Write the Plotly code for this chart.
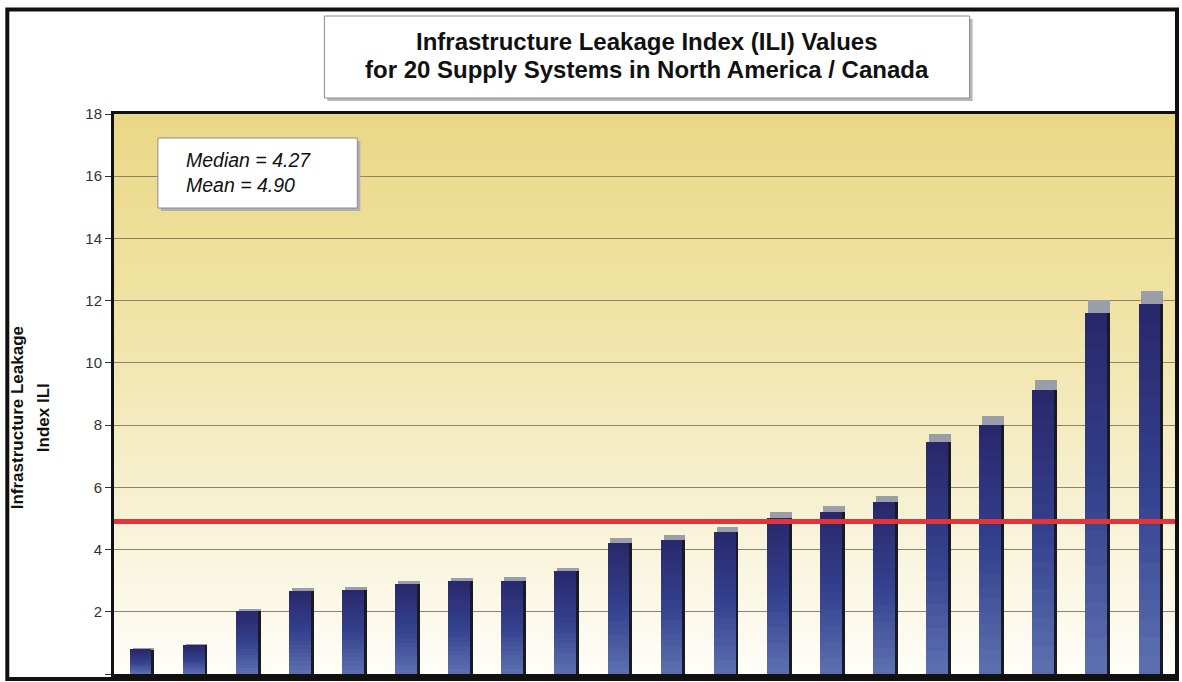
import base64
import struct
import zlib
import plotly.graph_objects as go

# ---------------- data ----------------
systems = [f"System {i}" for i in range(1, 21)]
ili_values = [0.78, 0.92, 2.02, 2.68, 2.70, 2.88, 2.98, 3.00, 3.30, 4.22,
              4.32, 4.58, 5.02, 5.22, 5.54, 7.45, 8.00, 9.12, 11.60, 11.88]
median_ili = 4.27
mean_ili = 4.90
y_ticks = [0, 2, 4, 6, 8, 10, 12, 14, 16, 18]

title_lines = ["Infrastructure Leakage Index (ILI) Values",
               "for 20 Supply Systems in North America / Canada"]
y_title_lines = ["Infrastructure Leakage", "Index ILI"]

# ---------------- geometry ----------------
W, H = 1182, 682
L, R, T, B = 114, 3, 114, 8
PW, PH = W - L - R, H - T - B


def px(x):
    return (x - L) / PW


def py(y):
    return (H - B - y) / PH


def hex2rgb(h):
    h = h.lstrip('#')
    return [int(h[i:i + 2], 16) for i in (0, 2, 4)]


def interp(stops, t):
    for (t0, c0), (t1, c1) in zip(stops[:-1], stops[1:]):
        if t0 <= t <= t1:
            f = (t - t0) / (t1 - t0) if t1 > t0 else 0
            a, b = hex2rgb(c0), hex2rgb(c1)
            return [round(a[j] + (b[j] - a[j]) * f) for j in range(3)]
    return hex2rgb(stops[-1][1])


def gradient_png(stops, h=256):
    rows = b''
    for i in range(h):
        r, g, b = interp(stops, i / (h - 1))
        rows += b'\x00' + bytes([r, g, b])

    def chunk(tag, data):
        c = struct.pack('>I', len(data)) + tag + data
        return c + struct.pack('>I', zlib.crc32(tag + data) & 0xffffffff)

    png = (b'\x89PNG\r\n\x1a\n'
           + chunk(b'IHDR', struct.pack('>IIBBBBB', 1, h, 8, 2, 0, 0, 0))
           + chunk(b'IDAT', zlib.compress(rows))
           + chunk(b'IEND', b''))
    return 'data:image/png;base64,' + base64.b64encode(png).decode()


bg_stops = [(0.0, '#ead887'), (0.35, '#f0e3a5'), (0.65, '#f6efcd'), (1.0, '#fefdf8')]
bg_uri = gradient_png(bg_stops)

fig = go.Figure()

BAR_W = 0.41
OFF = -BAR_W / 2
SH = 0.055

# grey top shadow
fig.add_trace(go.Bar(x=systems, y=[v * 0.035 for v in ili_values], base=ili_values,
                     width=BAR_W, offset=OFF + SH,
                     marker=dict(color='#9a9ea8', line=dict(width=0)),
                     hoverinfo='skip', showlegend=False))
# dark side shadow
fig.add_trace(go.Bar(x=systems, y=ili_values, base=[0] * len(ili_values),
                     width=BAR_W, offset=OFF + SH,
                     marker=dict(color='#1a1a22', line=dict(width=0)),
                     hoverinfo='skip', showlegend=False))

# gradient bars (segments)
N = 20
bar_stops = [(0.0, '#5d71b0'), (0.5, '#34418e'), (1.0, '#29276a')]
for k in range(N):
    r, g, b = interp(bar_stops, (k + 0.5) / N)
    fig.add_trace(go.Bar(x=systems, y=[v / N * 1.002 for v in ili_values],
                         base=[v * k / N for v in ili_values],
                         width=BAR_W, offset=OFF,
                         marker=dict(color=f'rgb({r},{g},{b})', line=dict(width=0)),
                         hovertemplate='%{x}: %{customdata}<extra></extra>',
                         customdata=ili_values, showlegend=False))

shapes = []
# mean line
shapes.append(dict(type='line', xref='x domain', yref='y', x0=0, x1=1,
                   y0=mean_ili, y1=mean_ili, line=dict(color='#e0353a', width=5), layer='above'))
# outer frame
shapes.append(dict(type='rect', xref='paper', yref='paper', x0=px(7), x1=px(1180),
                   y0=py(679), y1=py(9.5), line=dict(color='#111111', width=4), layer='above'))
# title box with shadow
shapes.append(dict(type='rect', xref='paper', yref='paper', x0=px(328), x1=px(975),
                   y0=py(101), y1=py(19), line=dict(width=0), fillcolor='#b8b8b8', layer='above'))
shapes.append(dict(type='rect', xref='paper', yref='paper', x0=px(325), x1=px(972),
                   y0=py(98), y1=py(16), line=dict(color='#8a8a8a', width=1),
                   fillcolor='white', layer='above'))
# stats box with shadow
shapes.append(dict(type='rect', xref='paper', yref='paper', x0=px(161), x1=px(361),
                   y0=py(211), y1=py(141), line=dict(width=0), fillcolor='#b0b0b0', layer='above'))
shapes.append(dict(type='rect', xref='paper', yref='paper', x0=px(158), x1=px(358),
                   y0=py(208), y1=py(138), line=dict(color='#8a8a8a', width=1),
                   fillcolor='white', layer='above'))

FONT = 'Liberation Sans, Arial, sans-serif'
annotations = [
    dict(xref='paper', yref='paper', x=px(648.5), y=py(41), xanchor='center', yanchor='middle',
         text=title_lines[0], showarrow=False,
         font=dict(family=FONT, size=24, color='#111111', weight='bold')),
    dict(xref='paper', yref='paper', x=px(648.5), y=py(69), xanchor='center', yanchor='middle',
         text=title_lines[1], showarrow=False,
         font=dict(family=FONT, size=24, color='#111111', weight='bold')),
    dict(xref='paper', yref='paper', x=px(184), y=py(173), xanchor='left', yanchor='middle',
         text=f'Median = {median_ili:.2f}<br>Mean = {mean_ili:.2f}', showarrow=False, align='left',
         font=dict(family=FONT, size=19.5, color='#111111', style='italic')),
    dict(xref='paper', yref='paper', x=px(17), y=py(418), xanchor='center', yanchor='middle',
         text=y_title_lines[0], textangle=-90, showarrow=False,
         font=dict(family=FONT, size=17, color='#111111', weight='bold')),
    dict(xref='paper', yref='paper', x=px(43), y=py(418), xanchor='center', yanchor='middle',
         text=y_title_lines[1], textangle=-90, showarrow=False,
         font=dict(family=FONT, size=17, color='#111111', weight='bold')),
]

fig.update_layout(
    width=W, height=H, autosize=False,
    margin=dict(l=L, r=R, t=T, b=B, pad=0),
    paper_bgcolor='white', plot_bgcolor='rgba(0,0,0,0)',
    barmode='overlay', bargap=0,
    shapes=shapes, annotations=annotations,
    images=[dict(source=bg_uri, xref='x domain', yref='y domain', x=0, y=1, sizex=1, sizey=1,
                 xanchor='left', yanchor='top', sizing='stretch', layer='below')],
    font=dict(family=FONT),
    xaxis=dict(type='category', categoryorder='array', categoryarray=systems,
               range=[-0.5, len(systems) - 0.5], showticklabels=False,
               ticks='outside', tickson='boundaries', ticklen=4, tickcolor='#999999',
               showgrid=False, showline=True, linecolor='#111111', linewidth=3, mirror=True,
               zeroline=False, fixedrange=True),
    yaxis=dict(range=[0, 18], tickvals=y_ticks, ticks='outside', ticklen=6, tickcolor='#333333',
               tickfont=dict(size=15, color='#333333'),
               showgrid=True, gridcolor='#8c8466', gridwidth=1,
               showline=True, linecolor='#111111', linewidth=3, mirror=True,
               zeroline=False, fixedrange=True),
)

fig.write_html("out.html", include_plotlyjs=True, config={'displayModeBar': False},
               post_script="document.body.style.margin='0';")
